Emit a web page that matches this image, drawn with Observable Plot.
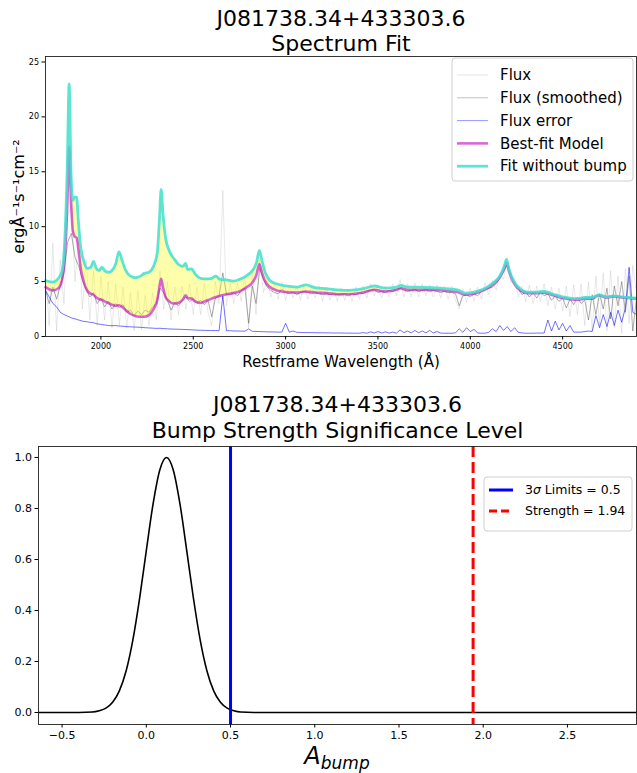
<!DOCTYPE html>
<html>
<head>
<meta charset="utf-8">
<script src="https://cdn.jsdelivr.net/npm/d3@7"></script>
<script src="https://cdn.jsdelivr.net/npm/@observablehq/plot@0.6"></script>
<style>
  html, body { margin: 0; padding: 0; background: white; }
  #wrap { width: 637px; height: 773px; position: relative; font-family: "DejaVu Sans", sans-serif; }
  #wrap svg { display: block; }
</style>
</head>
<body>
<div id="wrap"></div>
<script>
// ---------------- DATA ----------------
const objectName = "J081738.34+433303.6";
const topSubtitle = "Spectrum Fit";
const bottomSubtitle = "Bump Strength Significance Level";
const xLabelTop = "Restframe Wavelength (Å)";
const yLabelTop = "ergÅ⁻¹s⁻¹cm⁻²";
const topLegendLabels = ["Flux", "Flux (smoothed)", "Flux error", "Best-fit Model", "Fit without bump"];

const xTicksTop = [2000, 2500, 3000, 3500, 4000, 4500];
const yTicksTop = [0, 5, 10, 15, 20, 25];
const xTicksBottom = [-0.5, 0.0, 0.5, 1.0, 1.5, 2.0, 2.5];
const yTicksBottom = [0.0, 0.2, 0.4, 0.6, 0.8, 1.0];

// spectrum sampling grid (Å)
const specStart = 1700, specStep = 20, specEnd = 4900;

// raw flux (light grey)
const flux = [
  6.0, 1.0, 8.5, 0.5, 7.0, 3.0, 11.0, 12.0, 5.0, 9.5,
  2.5, 7.0, 1.5, 6.0, 1.0, 5.5, 1.5, 5.0, 0.8, 4.8,
  1.0, 4.5, 0.8, 4.0, 0.5, 4.2, 0.6, 3.8, 1.0, 4.0,
  1.5, 6.0, 2.5, 5.0, 1.5, 4.5, 2.0, 4.6, 2.5, 4.8,
  2.0, 4.5, 2.0, 4.8, 2.2, 1.0, 5.0, 3.0, 13.3, 2.8,
  4.8, 3.0, 4.9, 3.2, 5.5, 0.8, 5.8, 2.0, 7.0, 4.0,
  5.2, 3.6, 4.8, 3.4, 5.0, 3.3, 4.7, 3.5, 4.6, 3.3,
  4.7, 3.4, 4.5, 3.5, 4.6, 3.2, 4.5, 3.3, 4.4, 3.2,
  4.4, 3.3, 4.3, 3.2, 4.5, 3.4, 4.6, 3.5, 4.8, 3.7,
  4.7, 3.5, 4.6, 3.6, 4.8, 3.7, 5.2, 3.6, 4.8, 3.6,
  4.9, 3.6, 4.8, 3.7, 4.7, 3.6, 4.7, 3.5, 4.6, 3.4,
  4.6, 3.3, 2.5, 4.3, 3.1, 4.4, 3.2, 4.5, 3.4, 4.9,
  3.8, 5.1, 4.2, 5.8, 5.2, 7.2, 4.9, 5.3, 3.6, 4.6,
  3.2, 4.7, 3.0, 4.6, 3.2, 4.8, 2.8, 4.5, 2.5, 4.4,
  2.3, 4.6, 1.8, 4.7, 2.0, 4.8, 1.0, 5.0, 0.5, 5.5,
  1.0, 5.8, 0.5, 6.0, 0.8, 5.5, 0.3, 6.2, 1.2, 6.5,
  4.0
];

// smoothed flux (dark grey)
const fluxSmoothed = [
  4.2, 3.0, 4.5, 3.4, 4.6, 5.8, 8.6, 9.4, 7.2, 6.4,
  5.1, 4.3, 3.6, 4.0, 3.0, 3.5, 2.7, 3.2, 2.5, 3.0,
  2.6, 2.9, 2.2, 2.4, 1.9, 2.3, 2.0, 2.4, 2.2, 2.7,
  3.0, 4.4, 4.0, 3.3, 2.4, 3.1, 2.8, 3.3, 3.6, 3.2,
  3.4, 3.0, 3.3, 2.9, 3.3, 1.8, 3.5, 3.7, 5.8, 3.8,
  3.8, 4.0, 3.7, 4.2, 4.4, 1.2, 4.6, 3.0, 6.2, 5.2,
  4.5, 4.2, 4.0, 3.9, 4.3, 4.0, 3.9, 4.1, 3.8, 4.0,
  4.1, 4.0, 3.9, 4.0, 3.9, 3.8, 3.9, 3.8, 3.9, 3.8,
  3.8, 3.9, 3.7, 3.9, 3.8, 4.0, 3.9, 4.1, 4.2, 4.3,
  4.0, 4.1, 4.0, 4.2, 4.1, 4.3, 4.4, 4.2, 4.1, 4.2,
  4.3, 4.1, 4.2, 4.3, 4.1, 4.2, 4.1, 4.0, 4.1, 4.0,
  4.0, 3.9, 2.8, 3.7, 3.8, 3.6, 3.9, 3.7, 4.1, 4.3,
  4.4, 4.5, 4.8, 5.3, 5.9, 6.5, 5.5, 4.7, 4.4, 3.8,
  4.1, 3.6, 4.0, 3.5, 4.1, 3.7, 3.9, 3.3, 3.7, 3.2,
  3.5, 2.6, 3.4, 2.9, 3.6, 3.0, 3.3, 1.5, 3.8, 2.0,
  3.9, 2.5, 4.4, 1.6, 4.6, 2.8, 5.0, 2.2, 5.5, 0.5,
  3.5
];

// flux error (blue)
const fluxError = [
  4.2, 3.6, 3.0, 2.7, 2.2, 2.0, 1.85, 1.7, 1.6, 1.5,
  1.4, 1.35, 1.3, 1.25, 1.15, 1.1, 1.05, 1.0, 0.98, 1.0,
  0.95, 0.93, 0.9, 0.88, 0.86, 0.85, 0.83, 0.8, 0.78, 0.76,
  0.74, 0.75, 0.72, 0.7, 0.68, 0.67, 0.66, 0.65, 0.63, 0.62,
  0.6, 0.58, 0.57, 0.56, 0.55, 0.55, 0.54, 0.53, 3.7, 0.52,
  0.53, 0.5, 0.5, 0.49, 0.48, 0.7, 0.47, 0.46, 0.45, 0.44,
  0.42, 0.42, 0.41, 0.4, 0.4, 1.2, 0.4, 0.5, 0.38, 0.37,
  0.36, 0.36, 0.35, 0.35, 0.34, 0.34, 0.33, 0.33, 0.32, 0.32,
  0.32, 0.31, 0.31, 0.3, 0.3, 0.3, 0.35, 0.3, 0.42, 0.32,
  0.45, 0.32, 0.42, 0.31, 0.4, 0.3, 0.6, 0.35, 0.5, 0.33,
  0.55, 0.34, 0.5, 0.33, 0.55, 0.32, 0.45, 0.31, 0.3, 0.3,
  0.3, 0.33, 0.7, 0.38, 0.8, 0.45, 0.65, 0.33, 0.3, 0.3,
  0.38, 0.7, 0.45, 1.0, 0.55, 0.9, 0.45, 0.8, 0.38, 0.32,
  0.3, 0.3, 0.3, 0.31, 0.31, 0.32, 1.5, 0.5, 1.4, 0.6,
  1.2, 0.5, 1.0, 0.4, 0.4, 0.4, 0.45, 0.5, 0.45, 1.9,
  0.8, 2.0, 0.9, 2.2, 1.0, 2.4, 1.3, 2.6, 6.3, 2.2,
  2.0
];

// model curves (Å, flux)
const modelWave = [
  1700, 1740, 1770, 1790, 1805, 1818, 1828, 1838, 1848, 1858,
  1868, 1878, 1890, 1905, 1925, 1945, 1960, 1975, 1990, 2005,
  2020, 2040, 2060, 2080, 2098, 2115, 2135, 2160, 2190, 2215,
  2235, 2260, 2285, 2305, 2318, 2326, 2336, 2350, 2370, 2395,
  2425, 2445, 2458, 2470, 2492, 2510, 2540, 2570, 2600, 2622,
  2645, 2680, 2715, 2750, 2790, 2820, 2842, 2858, 2872, 2890,
  2915, 2950, 3000, 3060, 3110, 3160, 3220, 3280, 3345, 3420,
  3480, 3540, 3600, 3625, 3660, 3720, 3800, 3870, 3930, 3975,
  4020, 4070, 4120, 4160, 4182, 4196, 4210, 4235, 4270, 4310,
  4360, 4400, 4450, 4500, 4540, 4580, 4620, 4660, 4695, 4740,
  4775, 4820, 4860, 4900
];
const bestFitModel = [
  4.5, 4.2, 4.4, 5.2, 7.5, 12.0, 17.3, 12.5, 9.6, 9.1,
  9.0, 8.0, 6.3, 5.1, 4.2, 3.9, 3.8, 3.55, 3.4, 3.35,
  3.2, 3.05, 2.9, 2.8, 2.85, 2.7, 2.4, 2.05, 1.85, 1.8,
  1.8, 1.95, 2.5, 3.3, 4.6, 5.25, 4.5, 3.6, 3.2, 3.0,
  3.1, 3.4, 3.75, 3.5, 3.45, 3.2, 3.05, 3.25, 3.45, 3.6,
  3.7, 3.85, 3.95, 4.1, 4.5, 4.9, 5.6, 6.6, 5.8, 5.0,
  4.5, 4.2, 4.05, 4.0, 4.1, 4.0, 3.95, 3.85, 3.85, 4.0,
  4.25, 4.1, 4.25, 4.4, 4.25, 4.25, 4.25, 4.15, 4.05, 3.8,
  3.9, 4.2, 4.7, 5.4, 6.1, 6.7, 5.9, 4.9, 4.2, 3.95,
  3.95, 4.0, 3.75, 3.5, 3.4, 3.35, 3.45, 3.45, 3.75, 3.55,
  3.65, 3.55, 3.5, 3.45
];
const fitWithoutBump = [
  5.1, 4.95, 5.3, 6.0, 9.0, 15.5, 23.0, 15.0, 12.4, 12.7,
  12.7, 10.5, 8.2, 7.0, 6.2, 6.3, 6.85, 6.2, 6.0, 6.3,
  6.0, 5.85, 6.0, 6.6, 7.7, 6.9, 6.0, 5.5, 5.35, 5.5,
  5.75, 5.85, 6.4, 7.6, 11.0, 13.4, 11.2, 9.0, 7.8, 7.1,
  6.5, 6.4, 6.65, 6.1, 6.15, 5.7, 5.3, 5.25, 5.3, 5.5,
  5.2, 5.15, 5.05, 5.2, 5.55, 6.0, 6.7, 7.85, 6.9, 5.8,
  5.1, 4.8, 4.6, 4.5, 4.7, 4.45, 4.35, 4.25, 4.2, 4.35,
  4.6, 4.4, 4.5, 4.65, 4.5, 4.5, 4.45, 4.35, 4.25, 3.95,
  4.05, 4.3, 4.85, 5.5, 6.3, 7.0, 6.1, 5.05, 4.35, 4.05,
  4.05, 4.1, 3.85, 3.6, 3.5, 3.45, 3.55, 3.55, 3.8, 3.6,
  3.7, 3.6, 3.55, 3.5
];

// bump strength distribution
const bumpA = [
  -0.64, -0.40, -0.32, -0.28, -0.24, -0.20, -0.16, -0.12, -0.08, -0.04,
  0.00, 0.04, 0.08, 0.12, 0.16, 0.20, 0.24, 0.28, 0.32, 0.36,
  0.40, 0.44, 0.48, 0.52, 0.56, 0.64, 2.91
];
const bumpProb = [
  0, 0.0002, 0.002, 0.007, 0.017, 0.040, 0.085, 0.163, 0.284, 0.447,
  0.635, 0.817, 0.951, 1.0, 0.951, 0.817, 0.635, 0.447, 0.284, 0.163,
  0.085, 0.040, 0.017, 0.007, 0.002, 0.0002, 0
];
const sigmaLimit = 0.5;
const bumpStrength = 1.94;

// ---------------- BUILD ----------------
const specWave = d3.range(specStart, specEnd + 1, specStep);
const rawRows = specWave.map((w, i) => ({w, v: flux[i]}));
const smoothRows = specWave.map((w, i) => ({w, v: fluxSmoothed[i]}));
const errRows = specWave.map((w, i) => ({w, v: fluxError[i]}));
const modelRows = modelWave.map((w, i) => ({w, best: bestFitModel[i], nobump: fitWithoutBump[i]}));
const bumpRows = bumpA.map((a, i) => ({a, p: bumpProb[i]}));

const FONT = "DejaVu Sans";
const MAGENTA = "#bf00bf";
const TURQ = "#40e0d0";

const topChart = Plot.plot({
  width: 637, height: 380,
  marginTop: 56, marginBottom: 44, marginLeft: 45, marginRight: 1,
  x: {domain: [1700, 4900]},
  y: {domain: [0, 25.5]},
  style: {fontFamily: FONT, background: "white", color: "black"},
  marks: [
    Plot.line(rawRows, {x: "w", y: "v", stroke: "#9a9a9a", strokeOpacity: 0.28, strokeWidth: 0.8, clip: true}),
    Plot.line(smoothRows, {x: "w", y: "v", stroke: "#444", strokeOpacity: 0.55, strokeWidth: 0.8, clip: true}),
    Plot.areaY(modelRows, {x: "w", y1: "best", y2: "nobump", fill: "yellow", fillOpacity: 0.33, curve: "monotone-x"}),
    Plot.line(errRows, {x: "w", y: "v", stroke: "blue", strokeOpacity: 0.8, strokeWidth: 0.7, clip: true}),
    Plot.line(modelRows, {x: "w", y: "best", stroke: MAGENTA, strokeOpacity: 0.6, strokeWidth: 2.6, curve: "monotone-x"}),
    Plot.line(modelRows, {x: "w", y: "nobump", stroke: TURQ, strokeOpacity: 0.85, strokeWidth: 2.8, curve: "monotone-x"}),
    Plot.frame({stroke: "#222", strokeWidth: 0.9}),
    Plot.axisX({ticks: xTicksTop, tickFormat: "d", tickSize: 3.5, tickPadding: 3, fontSize: 8, label: null}),
    Plot.axisY({ticks: yTicksTop, tickFormat: "d", tickSize: 3.5, tickPadding: 3, fontSize: 8, label: null}),
    Plot.text([objectName], {text: d => d, frameAnchor: "top", dy: -38, fontSize: 22, lineAnchor: "middle"}),
    Plot.text([topSubtitle], {text: d => d, frameAnchor: "top", dy: -13, fontSize: 22, lineAnchor: "middle"}),
    Plot.text([xLabelTop], {text: d => d, frameAnchor: "bottom", dy: 26, fontSize: 15, lineAnchor: "middle"}),
    Plot.text([yLabelTop], {text: d => d, frameAnchor: "left", dx: -27, rotate: -90, fontSize: 16, textAnchor: "middle", lineAnchor: "middle"})
  ]
});

const bottomChart = Plot.plot({
  width: 637, height: 393,
  marginTop: 66, marginBottom: 49, marginLeft: 38, marginRight: 1,
  x: {domain: [-0.64, 2.91]},
  y: {domain: [-0.047, 1.043]},
  style: {fontFamily: FONT, background: "white", color: "black"},
  marks: [
    Plot.line(bumpRows, {x: "a", y: "p", stroke: "black", strokeWidth: 1.6, curve: "monotone-x"}),
    Plot.ruleX([sigmaLimit], {stroke: "blue", strokeWidth: 3}),
    Plot.ruleX([bumpStrength], {stroke: "red", strokeWidth: 3, strokeDasharray: "11,5"}),
    Plot.frame({stroke: "#222", strokeWidth: 0.9}),
    Plot.axisX({ticks: xTicksBottom, tickFormat: d3.format(".1f"), tickSize: 3.5, tickPadding: 3, fontSize: 11, label: null}),
    Plot.axisY({ticks: yTicksBottom, tickFormat: d3.format(".1f"), tickSize: 3.5, tickPadding: 3, fontSize: 11, label: null}),
    Plot.text([objectName], {text: d => d, frameAnchor: "top", dy: -42, fontSize: 22, lineAnchor: "middle"}),
    Plot.text([bottomSubtitle], {text: d => d, frameAnchor: "top", dy: -16, fontSize: 22, lineAnchor: "middle"})
  ]
});

const wrap = document.getElementById("wrap");
wrap.appendChild(topChart);
wrap.appendChild(bottomChart);

// x label with subscript for bottom chart
{
  const cx = (38 + 636) / 2;
  const t = d3.select(bottomChart).append("text")
    .attr("x", cx).attr("y", 393 - 9)
    .attr("text-anchor", "middle")
    .attr("font-family", FONT)
    .attr("font-style", "italic")
    .attr("font-size", 24)
    .attr("fill", "black");
  t.append("tspan").text("A");
  t.append("tspan").attr("font-size", 17).attr("dy", 5).text("bump");
}

// legends
function legend(svg, box, rows, opts) {
  const g = d3.select(svg).append("g")
    .attr("font-family", FONT).attr("font-size", opts.fontSize).attr("text-anchor", "start");
  g.append("rect").attr("x", box.x).attr("y", box.y).attr("width", box.w).attr("height", box.h)
    .attr("rx", 3).attr("fill", "white").attr("fill-opacity", 0.85)
    .attr("stroke", "#d0d0d0").attr("stroke-width", 1);
  rows.forEach((r, i) => {
    const y = opts.y0 + i * opts.dy;
    g.append("line").attr("x1", opts.lx1).attr("x2", opts.lx2).attr("y1", y).attr("y2", y)
      .attr("stroke", r.stroke).attr("stroke-width", r.width)
      .attr("stroke-opacity", r.opacity ?? 1)
      .attr("stroke-dasharray", r.dash || null);
    const t = g.append("text").attr("x", opts.tx).attr("y", y).attr("dy", "0.35em")
      .attr("text-anchor", "start").attr("fill", "black");
    r.label(t);
  });
}

legend(topChart, {x: 452, y: 58, w: 181, h: 123}, [
  {stroke: "#dddddd", width: 1.5, opacity: 0.5, label: t => t.text(topLegendLabels[0])},
  {stroke: "#999", width: 1, opacity: 0.6, label: t => t.text(topLegendLabels[1])},
  {stroke: "blue", width: 1, opacity: 0.4, label: t => t.text(topLegendLabels[2])},
  {stroke: MAGENTA, width: 2.6, opacity: 0.6, label: t => t.text(topLegendLabels[3])},
  {stroke: TURQ, width: 2.8, opacity: 0.85, label: t => t.text(topLegendLabels[4])}
], {fontSize: 15, y0: 75, dy: 22.8, lx1: 457, lx2: 488, tx: 500});

legend(bottomChart, {x: 484, y: 97, w: 148, h: 54}, [
  {stroke: "blue", width: 3, label: t => { t.append("tspan").text("3"); t.append("tspan").attr("font-style", "italic").text("σ"); t.append("tspan").text(` Limits = ${sigmaLimit}`); }},
  {stroke: "red", width: 3, dash: "8,4", label: t => t.text(`Strength = ${bumpStrength}`)}
], {fontSize: 12.5, y0: 110, dy: 21, lx1: 489, lx2: 513, tx: 525});
</script>
</body>
</html>
